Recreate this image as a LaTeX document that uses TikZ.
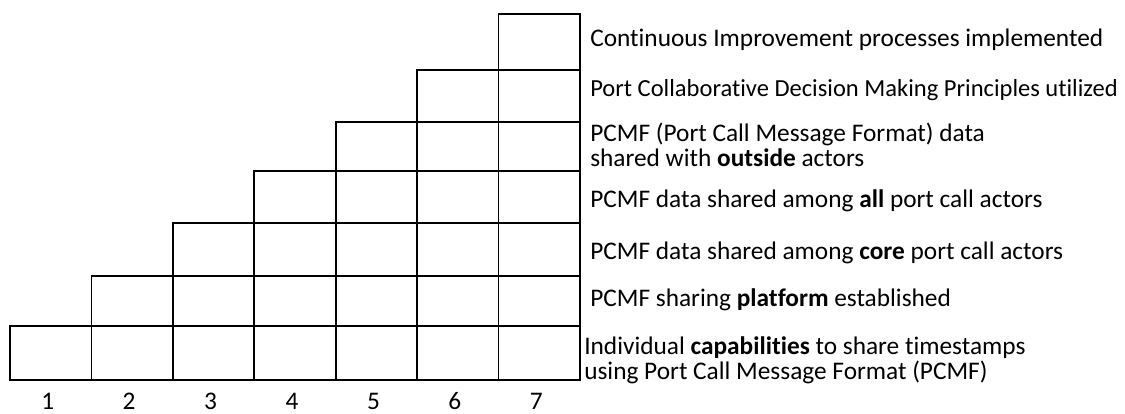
\documentclass[tikz,border=0pt]{standalone}
\usepackage{fontspec}
\setmainfont{Carlito}[Ligatures=NoCommon]
\usetikzlibrary{positioning}

\begin{document}
\begin{tikzpicture}[x=0.75pt, y=-0.75pt,
    every node/.style={font=\fontsize{19}{19}\selectfont},
    cell/.style={draw, line width=1.3pt},
    lvl/.style={anchor=west, align=left, inner sep=0pt},
    num/.style={inner sep=0pt}]
\useasboundingbox (0,0) rectangle (1125,414);
\def\rows{{380,326,276,223,171,122,70,14}}
\foreach \c in {1,...,7}{
  \foreach \r in {1,...,\c}{
    \pgfmathsetmacro\xa{10+81.43*(\c-1)}
    \pgfmathsetmacro\xb{10+81.43*\c}
    \pgfmathsetmacro\ya{\rows[\r-1]}
    \pgfmathsetmacro\yb{\rows[\r]}
    \draw[cell] (\xa,\ya) rectangle (\xb,\yb);
  }
  \node[num] (n\c) at ({10+81.43*(\c-0.5)-3},401) {\c};
}
\node[lvl] (l7) at (590,40) {Continuous Improvement processes implemented};
\node[lvl, font=\fontsize{18.4}{19}\selectfont] (l6) at (590,90) {Port Collaborative Decision Making Principles utilized};
\node[lvl] (l5) at (590,145) {PCMF (Port Call Message Format) data\\shared with \textbf{outside} actors};
\node[lvl] (l4) at (590,201) {PCMF data shared among \textbf{all} port call actors};
\node[lvl] (l3) at (590,253) {PCMF data shared among \textbf{core} port call actors};
\node[lvl] (l2) at (590,300) {PCMF sharing \textbf{platform} established};
\node[lvl] (l1) at (584,360) {Individual \textbf{capabilities} to share timestamps\\using Port Call Message Format (PCMF)};
\end{tikzpicture}
\end{document}
